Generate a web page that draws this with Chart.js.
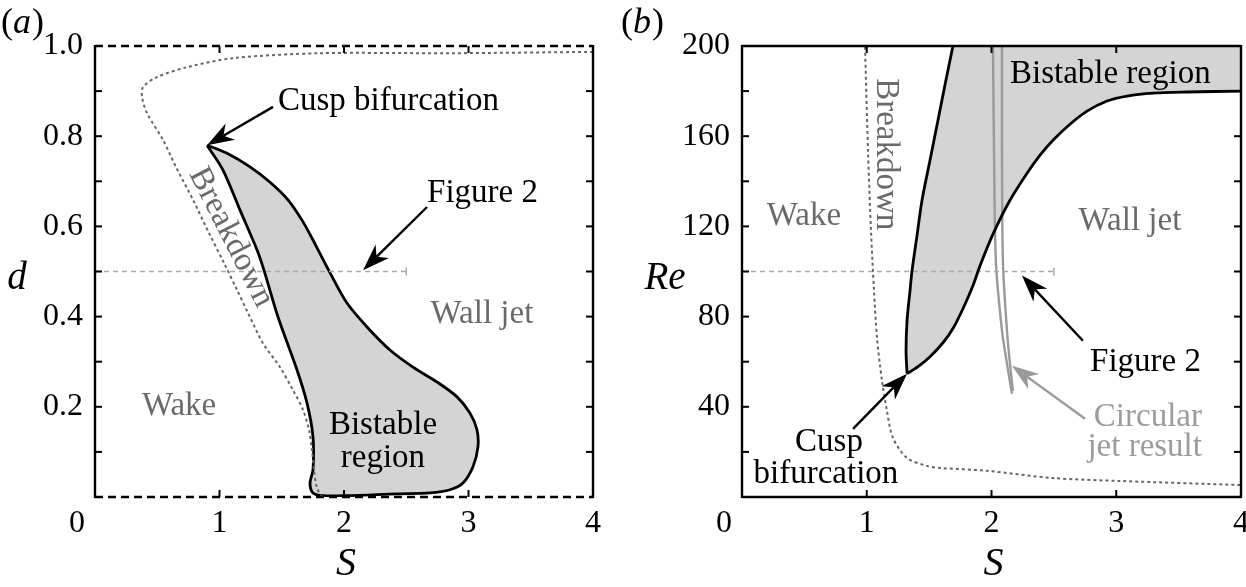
<!DOCTYPE html>
<html>
<head>
<meta charset="utf-8">
<script src="https://cdn.jsdelivr.net/npm/chart.js@4.4.0/dist/chart.umd.min.js"></script>
<style>
html, body { margin: 0; padding: 0; background: #fff; overflow: hidden; }
#wrap { position: relative; width: 1246px; height: 587px; overflow: hidden; }
#wrap canvas { position: absolute; top: 0; }
</style>
</head>
<body>
<div id="wrap">
  <canvas id="chartA" width="620" height="587" style="left:0"></canvas>
  <canvas id="chartB" width="646" height="587" style="left:620px"></canvas>
</div>
<script>
// ---- tick labels ----
const xTickLabels = ['0', '1', '2', '3', '4'];
const aYTickLabels = ['0.2', '0.4', '0.6', '0.8', '1.0'];
const bYTickLabels = ['40', '80', '120', '160', '200'];

// ---- panel (a): S vs d ----
// bistable region, closed loop starting at the cusp (clockwise)
const aBistableS = [0.900, 1.068, 1.245, 1.406, 1.550, 1.671, 1.775, 1.888, 2.024, 2.185, 2.369, 2.554, 2.747, 2.908,
    3.012, 3.068, 3.076, 3.036, 2.956, 2.851, 2.691, 2.426, 2.024, 1.831, 1.751, 1.727, 1.751, 1.751, 1.703, 1.622,
    1.470, 1.357, 1.301, 1.165, 1.028, 0.900];
const aBistableD = [0.780, 0.761, 0.732, 0.698, 0.659, 0.610, 0.557, 0.497, 0.430, 0.377, 0.326, 0.288, 0.255, 0.222,
    0.186, 0.149, 0.111, 0.067, 0.031, 0.016, 0.009, 0.007, 0.003, 0.003, 0.009, 0.031, 0.060, 0.133, 0.208, 0.282,
    0.399, 0.503, 0.548, 0.636, 0.725, 0.780];
// breakdown curve
const aBreakS = [4.000, 2.851, 1.807, 1.108, 0.739, 0.498, 0.386, 0.378, 0.418, 0.546, 0.650, 0.787, 0.916, 1.036,
    1.141, 1.229, 1.349, 1.486, 1.590, 1.671, 1.719, 1.743, 1.759, 1.783, 1.823];
const aBreakD = [0.987, 0.984, 0.984, 0.973, 0.953, 0.931, 0.909, 0.887, 0.851, 0.792, 0.732, 0.659, 0.585, 0.519,
    0.459, 0.408, 0.341, 0.288, 0.237, 0.193, 0.149, 0.104, 0.060, 0.020, 0.000];
// "Figure 2" cut
const aFig2S = [0, 2.5];
const aFig2D = [0.5, 0.5];

// ---- panel (b): S vs Re ----
const bLowerS = [1.323, 1.411, 1.507, 1.611, 1.691, 1.772, 1.852, 1.908, 2.012, 2.148, 2.285, 2.389, 2.493, 2.629,
    2.766, 2.926, 3.086, 3.295, 3.567, 4.000];
const bLowerRe = [54.7, 57.8, 62.2, 68.4, 74.7, 83.6, 93.8, 102.6, 116.6, 131.6, 143.6, 151.6, 158.2, 165.3,
    171.1, 175.6, 177.8, 179.1, 179.6, 180.0];
const bLeftS = [1.323, 1.315, 1.323, 1.347, 1.363, 1.403, 1.443, 1.507, 1.571, 1.635, 1.691];
const bLeftRe = [54.7, 64.9, 78.2, 91.6, 100.4, 116.0, 131.6, 149.3, 167.1, 184.9, 200.0];
const bBreakS = [0.986, 1.010, 1.034, 1.058, 1.082, 1.122, 1.162, 1.210, 1.323, 1.483, 1.587, 1.964, 2.493, 3.030, 4.000];
const bBreakRe = [199.6, 153.8, 118.2, 91.6, 70.7, 51.6, 38.2, 26.2, 17.3, 13.8, 12.9, 11.6, 8.4, 7.1, 5.3];
const bJetLeftS = [2.012, 2.020, 2.036, 2.084, 2.124, 2.164];
const bJetLeftRe = [200, 153.8, 103.6, 73.8, 59.1, 45.8];
const bJetRightS = [2.084, 2.084, 2.092, 2.124, 2.148, 2.172];
const bJetRightRe = [200, 153.8, 103.6, 73.8, 59.1, 47.1];
const bFig2S = [0, 2.5];
const bFig2Re = [100, 100];

function pts(xs, ys) {
    return xs.map((x, i) => ({ x: x, y: ys[i] }));
}

const SERIF = '"Liberation Serif", "Times New Roman", serif';
const GREY_TXT = '#6a6a6a';
const LIGHT_TXT = '#9c9c9c';
const FILL = '#d4d4d4';
const TXT_SIZE = 33;

// annotations (data coordinates)
const aTexts = [
    { t: 'Cusp bifurcation', x: 1.47, y: 0.858, align: 'left', color: '#000' },
    { t: 'Figure 2', x: 2.667, y: 0.654, align: 'left', color: '#000' },
    { t: 'Wall jet', x: 3.108, y: 0.386, align: 'center', color: GREY_TXT },
    { t: 'Wake', x: 0.675, y: 0.182, align: 'center', color: GREY_TXT },
    { t: 'Bistable', x: 2.313, y: 0.140, align: 'center', color: '#000' },
    { t: 'region', x: 2.313, y: 0.067, align: 'center', color: '#000' },
    { t: 'Breakdown', x: 1.092, y: 0.576, align: 'center', color: GREY_TXT, rot: 63, mid: true }
];
const aArrows = [
    { x1: 1.43, y1: 0.865, x2: 0.9, y2: 0.78, color: '#000' },
    { x1: 2.667, y1: 0.643, x2: 2.153, y2: 0.503, color: '#000' }
];
const bTexts = [
    { t: 'Bistable region', x: 2.148, y: 183.6, align: 'left', color: '#000' },
    { t: 'Wall jet', x: 3.11, y: 118.2, align: 'center', color: GREY_TXT },
    { t: 'Wake', x: 0.497, y: 120.4, align: 'center', color: GREY_TXT },
    { t: 'Figure 2', x: 2.79, y: 56, align: 'left', color: '#000' },
    { t: 'Circular', x: 3.687, y: 31.6, align: 'right', color: LIGHT_TXT },
    { t: 'jet result', x: 3.687, y: 18.2, align: 'right', color: LIGHT_TXT },
    { t: 'Cusp', x: 0.697, y: 20.4, align: 'center', color: '#000' },
    { t: 'bifurcation', x: 0.673, y: 6.2, align: 'center', color: '#000' },
    { t: 'Breakdown', x: 1.15, y: 152, align: 'center', color: GREY_TXT, rot: 90, mid: true }
];
const bArrows = [
    { x1: 2.733, y1: 69.3, x2: 2.244, y2: 98.2, color: '#000' },
    { x1: 2.75, y1: 34.7, x2: 2.164, y2: 58.2, color: '#9a9a9a' },
    { x1: 0.89, y1: 30.2, x2: 1.323, y2: 54.7, color: '#000' }
];

function seg(ctx, x1, y1, x2, y2) {
    ctx.beginPath();
    ctx.moveTo(x1, y1);
    ctx.lineTo(x2, y2);
    ctx.stroke();
}

function drawArrow(ctx, x1, y1, x2, y2, color) {
    const ang = Math.atan2(y2 - y1, x2 - x1);
    const ux = Math.cos(ang), uy = Math.sin(ang);
    const L = 27, W = 9.5, N = 0.7;
    ctx.strokeStyle = color;
    ctx.lineWidth = 2.4;
    seg(ctx, x1, y1, x2 - ux * L * N, y2 - uy * L * N);
    ctx.fillStyle = color;
    ctx.beginPath();
    ctx.moveTo(x2, y2);
    ctx.lineTo(x2 - ux * L - uy * W, y2 - uy * L + ux * W);
    ctx.lineTo(x2 - ux * L * N, y2 - uy * L * N);
    ctx.lineTo(x2 - ux * L + uy * W, y2 - uy * L - ux * W);
    ctx.closePath();
    ctx.fill();
}

function drawDecor(chart, cfg) {
    const ctx = chart.ctx;
    const a = chart.chartArea;
    const xs = chart.scales.x, ys = chart.scales.y;
    ctx.save();

    // frame
    ctx.strokeStyle = '#000';
    ctx.lineWidth = 2.4;
    seg(ctx, a.left, a.top - 1, a.left, a.bottom + 1);
    seg(ctx, a.right, a.top - 1, a.right, a.bottom + 1);
    if (cfg.dashed) ctx.setLineDash([8, 5]);
    seg(ctx, a.left, a.top, a.right, a.top);
    seg(ctx, a.left, a.bottom, a.right, a.bottom);
    ctx.setLineDash([]);

    // inward ticks
    ctx.lineWidth = 2;
    xs.ticks.forEach(t => {
        if (t.value <= xs.min || t.value >= xs.max) return;
        const p = xs.getPixelForValue(t.value);
        seg(ctx, p, a.bottom, p, a.bottom - 7);
        seg(ctx, p, a.top, p, a.top + 7);
    });
    ys.ticks.forEach(t => {
        if (t.value <= ys.min || t.value >= ys.max) return;
        const p = ys.getPixelForValue(t.value);
        seg(ctx, a.left, p, a.left + 7, p);
        seg(ctx, a.right, p, a.right - 7, p);
    });

    // end mark of the "Figure 2" cut
    ctx.strokeStyle = '#aaa';
    ctx.lineWidth = 1.5;
    const ex = xs.getPixelForValue(cfg.cutEnd.x), ey = ys.getPixelForValue(cfg.cutEnd.y);
    seg(ctx, ex, ey - 4, ex, ey + 4);

    // x tick labels (the 0 sits at the corner, left of the axis)
    ctx.fillStyle = '#000';
    ctx.font = '32px ' + SERIF;
    ctx.textAlign = 'center';
    ctx.textBaseline = 'alphabetic';
    xs.ticks.forEach((t, i) => {
        const p = xs.getPixelForValue(t.value);
        const dx = t.value === xs.min ? -18 : 0;
        ctx.fillText(xTickLabels[i], p + dx, a.bottom + 35);
    });

    // arrows
    cfg.arrows.forEach(ar => {
        drawArrow(ctx, xs.getPixelForValue(ar.x1), ys.getPixelForValue(ar.y1),
            xs.getPixelForValue(ar.x2), ys.getPixelForValue(ar.y2), ar.color);
    });

    // annotation texts
    cfg.texts.forEach(tx => {
        ctx.save();
        ctx.translate(xs.getPixelForValue(tx.x), ys.getPixelForValue(tx.y));
        if (tx.rot) ctx.rotate(tx.rot * Math.PI / 180);
        ctx.font = TXT_SIZE + 'px ' + SERIF;
        ctx.fillStyle = tx.color;
        ctx.textAlign = tx.align;
        ctx.textBaseline = tx.mid ? 'middle' : 'alphabetic';
        ctx.fillText(tx.t, 0, 0);
        ctx.restore();
    });

    // axis titles
    ctx.fillStyle = '#000';
    ctx.textAlign = 'center';
    ctx.font = 'italic 40px ' + SERIF;
    ctx.fillText('S', xs.getPixelForValue(2) + 2, a.bottom + 78);
    ctx.font = 'italic 39px ' + SERIF;
    ctx.fillText(cfg.yTitle, cfg.yTitleX, 289);

    // panel label
    ctx.textAlign = 'left';
    ctx.font = '36px ' + SERIF;
    let w = cfg.panelX;
    ctx.fillText('(', w, 33);
    w += ctx.measureText('(').width;
    ctx.font = 'italic 36px ' + SERIF;
    ctx.fillText(cfg.panel, w, 33);
    w += ctx.measureText(cfg.panel).width + 1;
    ctx.font = '36px ' + SERIF;
    ctx.fillText(')', w, 33);

    ctx.restore();
}

function baseOptions(yMin, yMax, yStep, yWidth, rightPad, yLabel) {
    return {
        responsive: false,
        animation: false,
        layout: { padding: { top: 46, right: rightPad, left: 0, bottom: 0 } },
        plugins: {
            legend: { display: false },
            tooltip: { enabled: false },
            filler: { drawTime: 'beforeDatasetsDraw' }
        },
        elements: { point: { radius: 0 } },
        scales: {
            x: {
                type: 'linear', min: 0, max: 4,
                ticks: { stepSize: 1, display: false },
                grid: { display: false, drawTicks: false },
                border: { display: false },
                afterFit: s => { s.height = 90; }
            },
            y: {
                type: 'linear', min: yMin, max: yMax,
                ticks: {
                    stepSize: yStep, autoSkip: false, padding: 12, color: '#000',
                    font: { family: 'Liberation Serif', size: 32 },
                    callback: yLabel
                },
                grid: { display: false, drawTicks: false },
                border: { display: false },
                afterFit: s => { s.width = yWidth; }
            }
        }
    };
}

// ---------- chart (a) ----------
new Chart(document.getElementById('chartA'), {
    type: 'scatter',
    data: {
        datasets: [
            {
                data: pts(aBistableS, aBistableD), showLine: true, fill: 'shape',
                backgroundColor: FILL, borderColor: '#000', borderWidth: 2.8, tension: 0.3, order: 3
            },
            {
                data: pts(aFig2S, aFig2D), showLine: true, fill: false,
                borderColor: '#aaa', borderWidth: 1.5, borderDash: [5, 4], order: 2
            },
            {
                data: pts(aBreakS, aBreakD), showLine: true, fill: false,
                borderColor: '#666', borderWidth: 2, borderDash: [3, 3], tension: 0.3, order: 1
            }
        ]
    },
    options: baseOptions(0, 1, 0.1, 95, 27, v => {
        const k = Math.round(v * 10);
        return (k > 0 && k % 2 === 0) ? aYTickLabels[k / 2 - 1] : '';
    }),
    plugins: [{
        id: 'decorA',
        afterDraw: chart => drawDecor(chart, {
            dashed: true, arrows: aArrows, texts: aTexts, cutEnd: { x: 2.5, y: 0.5 },
            yTitle: 'd', yTitleX: 17, panel: 'a', panelX: 1
        })
    }]
});

// ---------- chart (b) ----------
const bRegionS = bLowerS.concat([4]).concat(bLeftS.slice().reverse());
const bRegionRe = bLowerRe.concat([200]).concat(bLeftRe.slice().reverse());

new Chart(document.getElementById('chartB'), {
    type: 'scatter',
    data: {
        datasets: [
            {
                data: pts(bRegionS, bRegionRe), showLine: true, fill: 'shape',
                backgroundColor: FILL, borderColor: 'rgba(0,0,0,0)', borderWidth: 0, tension: 0, order: 9
            },
            {
                data: pts(bJetLeftS, bJetLeftRe), showLine: true, fill: false,
                borderColor: '#9a9a9a', borderWidth: 2.4, tension: 0.3, order: 5
            },
            {
                data: pts(bJetRightS, bJetRightRe), showLine: true, fill: false,
                borderColor: '#9a9a9a', borderWidth: 2.4, tension: 0.3, order: 5
            },
            {
                data: pts(bFig2S, bFig2Re), showLine: true, fill: false,
                borderColor: '#aaa', borderWidth: 1.5, borderDash: [5, 4], order: 4
            },
            {
                data: pts(bBreakS, bBreakRe), showLine: true, fill: false,
                borderColor: '#666', borderWidth: 2, borderDash: [3, 3], tension: 0.3, order: 3
            },
            {
                data: pts(bLowerS, bLowerRe), showLine: true, fill: false,
                borderColor: '#000', borderWidth: 2.8, tension: 0.3, order: 1
            },
            {
                data: pts(bLeftS, bLeftRe), showLine: true, fill: false,
                borderColor: '#000', borderWidth: 2.8, tension: 0.3, order: 1
            }
        ]
    },
    options: baseOptions(0, 200, 20, 122, 25, v => {
        return (v > 0 && v % 40 === 0) ? bYTickLabels[v / 40 - 1] : '';
    }),
    plugins: [{
        id: 'decorB',
        afterDraw: chart => drawDecor(chart, {
            dashed: false, arrows: bArrows, texts: bTexts, cutEnd: { x: 2.5, y: 100 },
            yTitle: 'Re', yTitleX: 45, panel: 'b', panelX: 1
        })
    }]
});
</script>
</body>
</html>
